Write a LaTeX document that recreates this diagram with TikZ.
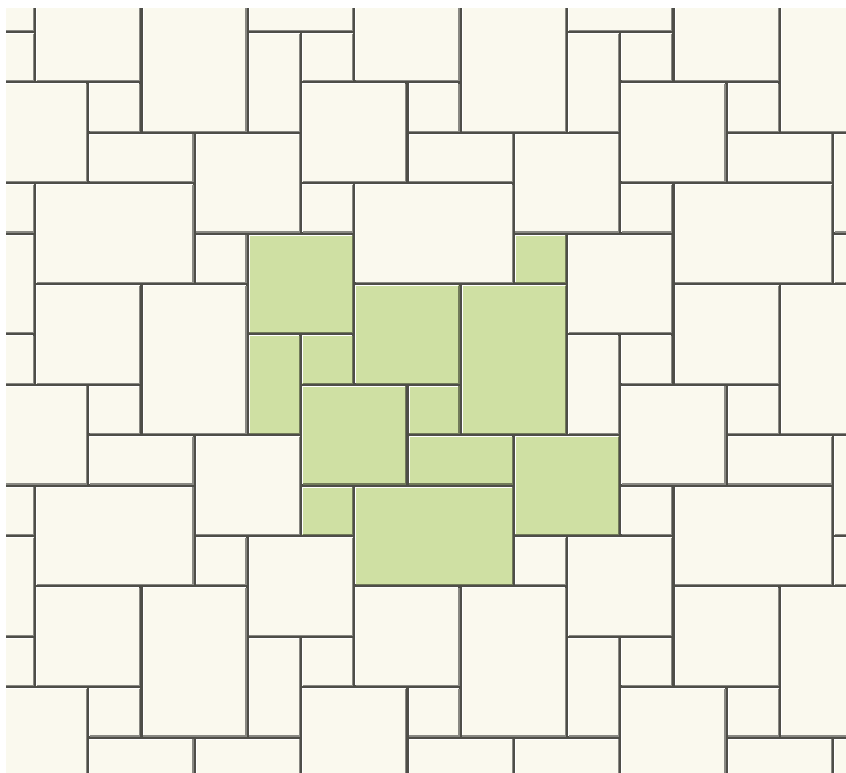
\documentclass[tikz,border=0pt]{standalone}
\usepackage{tikz}
\usepackage{xcolor}
\definecolor{TileCream}{RGB}{250,249,238}
\definecolor{TileGreen}{RGB}{207,224,163}
\definecolor{GroutDark}{RGB}{78,78,72}

\tikzset{
  tilebody/.style={fill=#1},
  tileshade/.style={draw=#1!55!black,line width=0.7pt},
  tilelight/.style={draw=white,line width=0.5pt},
}

\begin{document}
\begin{tikzpicture}[x=1.064cm,y=-1.008cm]
  \useasboundingbox (-0.658,-0.635) rectangle (15.244,14.70);
  \clip (-0.545,-0.476) rectangle (15.244,14.70);
  % grout
  \fill[GroutDark] (-0.6,-0.5) rectangle (15.3,14.8);
  % one 6x6 repeat: x/y/width/height of its twelve tiles
  \foreach \ox in {-2,4,10}
    \foreach \oy in {-2,4,10}
      \foreach \a/\b/\w/\h in {0/0/2/2, 5/0/1/1, 2/1/2/2, 4/1/2/3,
                               0/2/1/2, 1/2/1/1, 1/3/2/2, 3/3/1/1,
                               3/4/2/1, 5/4/2/2, 1/5/1/1, 2/5/3/2}
      {
        \def\tilecol{TileCream}
        \ifnum\ox=4 \ifnum\oy=4 \def\tilecol{TileGreen}\fi\fi
        \fill[tilebody=\tilecol] (\ox+\a+0.025,\oy+\b+0.025)
          rectangle (\ox+\a+\w-0.025,\oy+\b+\h-0.025);
        % bevel
        \draw[tilelight] (\ox+\a+0.03,\oy+\b+\h-0.04) -- (\ox+\a+0.03,\oy+\b+0.03)
          -- (\ox+\a+\w-0.04,\oy+\b+0.03);
        \draw[tileshade=\tilecol] (\ox+\a+\w-0.032,\oy+\b+0.03)
          -- (\ox+\a+\w-0.032,\oy+\b+\h-0.032) -- (\ox+\a+0.03,\oy+\b+\h-0.032);
      }
\end{tikzpicture}
\end{document}
